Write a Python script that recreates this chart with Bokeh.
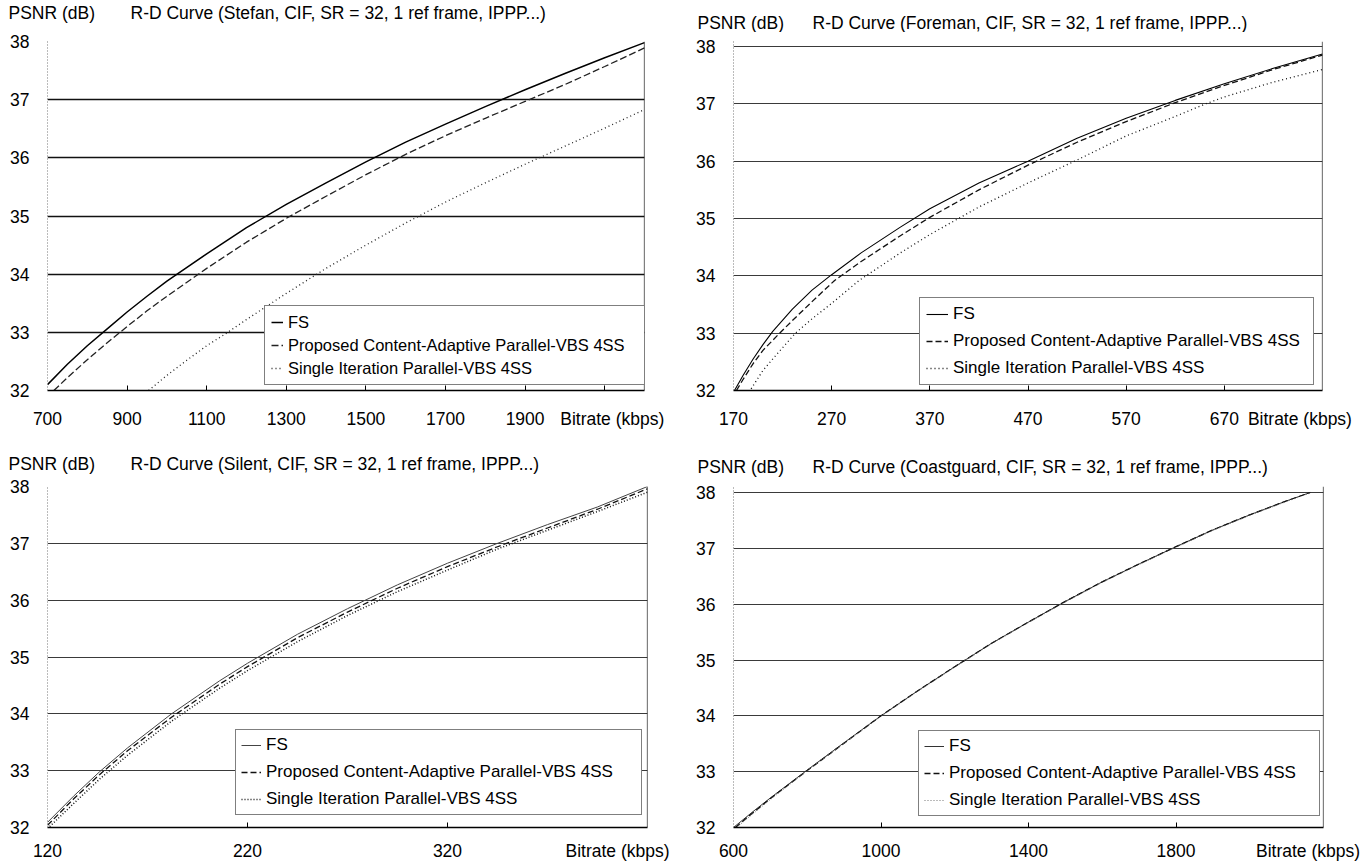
from bokeh.plotting import figure
from bokeh.layouts import column, row
from bokeh.models import Range1d, FixedTicker, Legend, LegendItem, Span
from bokeh.core.properties import value
from bokeh.embed import file_html
from bokeh.resources import INLINE

FONT = "Liberation Sans"

# ---------------- data ----------------
series_names = ["FS", "Proposed Content-Adaptive Parallel-VBS 4SS", "Single Iteration Parallel-VBS 4SS"]
psnr_ticks = [32, 33, 34, 35, 36, 37, 38]
y_label = "PSNR (dB)"
x_label = "Bitrate (kbps)"

# Stefan
stefan_title = "R-D Curve (Stefan, CIF, SR = 32, 1 ref frame, IPPP...)"
stefan_range = (700, 2200)
stefan_label_ticks = [700, 900, 1100, 1300, 1500, 1700, 1900]
stefan_marks = [900, 1100, 1300, 1500, 1700, 1900, 2100]
stefan_fs_x = [700, 750, 800, 850, 900, 950, 1000, 1100, 1200, 1300, 1400, 1500, 1600, 1700, 1800, 1900, 2000, 2100, 2200]
stefan_fs_y = [32.1, 32.45, 32.77, 33.06, 33.35, 33.62, 33.88, 34.35, 34.8, 35.2, 35.57, 35.93, 36.27, 36.58, 36.88, 37.17, 37.45, 37.72, 37.98]
stefan_prop_x = [716, 750, 800, 850, 900, 950, 1000, 1100, 1200, 1300, 1400, 1500, 1600, 1700, 1800, 1900, 2000, 2100, 2200]
stefan_prop_y = [32.0, 32.22, 32.53, 32.82, 33.1, 33.37, 33.62, 34.1, 34.55, 34.96, 35.34, 35.71, 36.06, 36.38, 36.68, 36.97, 37.26, 37.57, 37.89]
stefan_single_x = [954, 1000, 1050, 1100, 1153, 1200, 1300, 1400, 1500, 1600, 1700, 1800, 1900, 2000, 2100, 2200]
stefan_single_y = [32.0, 32.26, 32.52, 32.77, 33.0, 33.22, 33.67, 34.1, 34.5, 34.88, 35.24, 35.57, 35.89, 36.2, 36.51, 36.83]

# Foreman
foreman_title = "R-D Curve (Foreman, CIF, SR = 32, 1 ref frame, IPPP...)"
foreman_range = (170, 770)
foreman_label_ticks = [170, 270, 370, 470, 570, 670]
foreman_marks = [270, 370, 470, 570, 670]
foreman_fs_x = [170, 180, 190, 200, 210, 230, 250, 270, 300, 340, 370, 420, 470, 520, 570, 620, 670, 720, 770]
foreman_fs_y = [31.97, 32.27, 32.55, 32.8, 33.03, 33.42, 33.75, 34.02, 34.4, 34.85, 35.17, 35.62, 36.0, 36.4, 36.75, 37.06, 37.35, 37.62, 37.87]
foreman_prop_x = [173, 180, 190, 200, 217, 230, 250, 273, 300, 340, 370, 420, 470, 520, 570, 620, 670, 720, 770]
foreman_prop_y = [32.0, 32.2, 32.47, 32.7, 33.0, 33.22, 33.55, 33.92, 34.25, 34.7, 35.02, 35.5, 35.93, 36.33, 36.69, 37.02, 37.32, 37.6, 37.85]
foreman_single_x = [188, 200, 215, 233, 250, 270, 298, 340, 370, 420, 470, 520, 570, 620, 651, 670, 720, 770]
foreman_single_y = [32.03, 32.35, 32.65, 33.0, 33.25, 33.52, 33.92, 34.4, 34.72, 35.2, 35.62, 36.02, 36.44, 36.78, 37.0, 37.12, 37.38, 37.6]

# Silent
silent_title = "R-D Curve (Silent, CIF, SR = 32, 1 ref frame, IPPP...)"
silent_range = (120, 420)
silent_label_ticks = [120, 220, 320]
silent_marks = [220, 320]
silent_x = [120, 133, 146, 160, 182, 206, 220, 245, 270, 295, 320, 345, 370, 395, 420]
silent_fs_y = [32.09, 32.55, 32.98, 33.4, 34.0, 34.58, 34.89, 35.4, 35.85, 36.27, 36.65, 37.0, 37.33, 37.64, 38.0]
silent_prop_y = [32.04, 32.5, 32.93, 33.35, 33.94, 34.52, 34.83, 35.34, 35.79, 36.21, 36.59, 36.94, 37.27, 37.6, 37.96]
silent_single_y = [31.98, 32.42, 32.85, 33.27, 33.87, 34.45, 34.76, 35.27, 35.73, 36.15, 36.53, 36.9, 37.23, 37.56, 37.9]

# Coastguard
coast_title = "R-D Curve (Coastguard, CIF, SR = 32, 1 ref frame, IPPP...)"
coast_range = (600, 2200)
coast_label_ticks = [600, 1000, 1400, 1800]
coast_marks = [1000, 1400, 1800]
coast_fs_x = [600, 650, 700, 750, 800, 900, 1000, 1100, 1200, 1300, 1400, 1500, 1600, 1700, 1800, 1900, 2000, 2100, 2164]
coast_fs_y = [32.0, 32.27, 32.53, 32.78, 33.03, 33.52, 34.0, 34.45, 34.88, 35.3, 35.68, 36.05, 36.4, 36.72, 37.03, 37.33, 37.6, 37.85, 38.0]
coast_prop_x = [605, 650, 700, 750, 800, 900, 1000, 1100, 1200, 1300, 1400, 1500, 1600, 1700, 1800, 1900, 2000, 2100, 2164]
coast_prop_y = [32.0, 32.25, 32.52, 32.77, 33.02, 33.51, 34.0, 34.45, 34.88, 35.3, 35.68, 36.05, 36.4, 36.72, 37.03, 37.33, 37.6, 37.85, 38.0]
coast_single_x = [608, 650, 700, 750, 800, 900, 1000, 1100, 1200, 1300, 1400, 1500, 1600, 1700, 1800, 1900, 2000, 2100, 2164]
coast_single_y = [32.0, 32.23, 32.5, 32.76, 33.02, 33.51, 33.99, 34.44, 34.87, 35.29, 35.67, 36.04, 36.39, 36.71, 37.02, 37.32, 37.59, 37.84, 37.99]


def header(width, height, psnr_x, title_x, text_y, title):
    h = figure(width=width, height=height, x_range=Range1d(0, width), y_range=Range1d(0, height),
               output_backend="svg", toolbar_location=None, x_axis_type=None, y_axis_type=None,
               min_border=0, outline_line_color=None, background_fill_color="white",
               border_fill_color="white")
    h.title.visible = False
    h.grid.visible = False
    h.text(x=[psnr_x, title_x], y=[text_y, text_y], text=[y_label, title],
           text_font=value(FONT), text_font_size="17.5px", text_color="black",
           text_align="left", text_baseline="middle")
    return h


def panel(xr, label_ticks, marks, rate_pos, curves, geo, styles):
    # frame top may sit a few px above the 38 dB line (row frames share their top edge)
    ppu = (geo["fh"] - geo["top_gap"]) / (psnr_ticks[-1] - psnr_ticks[0])
    y_top = psnr_ticks[-1] + geo["top_gap"] / ppu
    p = figure(frame_width=geo["fw"], frame_height=geo["fh"],
               x_range=Range1d(*xr), y_range=Range1d(psnr_ticks[0], y_top),
               output_backend="svg", toolbar_location=None,
               min_border_left=geo["bl"], min_border_right=geo["br"],
               min_border_top=geo["bt"], min_border_bottom=geo["bb"],
               background_fill_color="white", border_fill_color="white")
    p.title.visible = False
    p.outline_line_color = None
    p.xgrid.visible = False
    p.ygrid.ticker = FixedTicker(ticks=psnr_ticks)
    p.ygrid.grid_line_color = geo["grid_color"]
    p.ygrid.grid_line_width = geo["grid_width"]

    ticks = list(label_ticks) + [rate_pos]
    overrides = {t: str(t) for t in label_ticks}
    overrides[rate_pos] = x_label
    p.xaxis.ticker = FixedTicker(ticks=ticks, minor_ticks=marks)
    p.xaxis.major_label_overrides = overrides
    p.xaxis.axis_line_color = "black"
    p.xaxis.axis_line_width = 1.3
    p.xaxis.major_tick_line_color = None
    p.xaxis.minor_tick_in = 5
    p.xaxis.minor_tick_out = 0
    p.xaxis.minor_tick_line_color = "black"
    p.xaxis.minor_tick_line_width = 1
    p.xaxis.major_label_standoff = geo["xstand"]
    p.xaxis.major_label_text_font = FONT
    p.xaxis.major_label_text_font_size = "17.5px"
    p.xaxis.major_label_text_color = "black"

    p.yaxis.ticker = FixedTicker(ticks=psnr_ticks)
    p.yaxis.axis_line_color = "#777777"
    p.yaxis.axis_line_dash = "1 2"
    p.yaxis.major_tick_line_color = None
    p.yaxis.minor_tick_line_color = None
    p.yaxis.major_label_standoff = 12
    p.yaxis.major_label_text_font = FONT
    p.yaxis.major_label_text_font_size = "17.5px"
    p.yaxis.major_label_text_color = "black"

    p.add_layout(Span(location=xr[1], dimension="height", line_color="black", line_width=1.2))

    items = []
    for (xs, ys), name, st in zip(curves, series_names, styles):
        r = p.line(xs, ys, line_color=st[0], line_width=st[1], line_dash=st[2])
        items.append(LegendItem(label=name, renderers=[r]))
    leg = Legend(items=items, location=geo["leg_loc"], orientation="vertical",
                 border_line_color="black", border_line_width=1,
                 background_fill_color="white", background_fill_alpha=1.0,
                 label_text_font=FONT, label_text_font_size=geo["leg_font"],
                 label_text_color="black", label_width=geo["label_w"],
                 glyph_width=geo["glyph_w"], glyph_height=20, label_height=20,
                 label_standoff=5, spacing=geo["leg_spacing"], padding=geo["leg_pad"],
                 margin=0)
    p.add_layout(leg)
    return p


WL, WR = 688, 680
HH = 32

g1 = dict(fw=597, fh=349, top_gap=0, bl=47, br=44, bt=9, bb=56, xstand=12,
          grid_color="#111111", grid_width=1.4,
          leg_loc=(217, 5), leg_font="16.5px", glyph_w=12, label_w=351, leg_spacing=3, leg_pad=6)
g2 = dict(fw=589, fh=349, top_gap=5, bl=45, br=46, bt=9, bb=56, xstand=12,
          grid_color="#3a3a3a", grid_width=1.1,
          leg_loc=(186, 5), leg_font="17px", glyph_w=22, label_w=354, leg_spacing=7, leg_pad=6)
g3 = dict(fw=600, fh=341, top_gap=0, bl=47, br=41, bt=8, bb=34, xstand=7,
          grid_color="#3a3a3a", grid_width=1.1,
          leg_loc=(188, 12), leg_font="17px", glyph_w=20, label_w=370, leg_spacing=7, leg_pad=5)
g4 = dict(fw=590, fh=341, top_gap=6, bl=45, br=45, bt=8, bb=34, xstand=7,
          grid_color="#3a3a3a", grid_width=1.1,
          leg_loc=(185, 11), leg_font="17px", glyph_w=20, label_w=365, leg_spacing=7, leg_pad=5)

s1 = [("black", 1.5, "solid"), ("#222222", 1.3, "7 3"), ("#222222", 1.3, "1 3")]
s2 = [("black", 1.1, "solid"), ("#111111", 1.3, "6 3"), ("#111111", 1.3, "1 3")]
s3 = [("#444444", 1.0, "solid"), ("#111111", 1.3, "6 3"), ("#111111", 1.5, "1 2")]
s4 = [("#333333", 1.0, "solid"), ("#111111", 1.3, "6 3"), ("#777777", 1.0, "1 2")]

h1 = header(WL, HH, 8, 130, 20, stefan_title)
h2 = header(WR, HH, 9, 124, 10, foreman_title)
h3 = header(WL, HH, 8, 130, 15, silent_title)
h4 = header(WR, HH, 9, 124, 12, coast_title)

p1 = panel(stefan_range, stefan_label_ticks, stefan_marks, 2119,
           [(stefan_fs_x, stefan_fs_y), (stefan_prop_x, stefan_prop_y), (stefan_single_x, stefan_single_y)], g1, s1)
p2 = panel(foreman_range, foreman_label_ticks, foreman_marks, 747,
           [(foreman_fs_x, foreman_fs_y), (foreman_prop_x, foreman_prop_y), (foreman_single_x, foreman_single_y)], g2, s2)
p3 = panel(silent_range, silent_label_ticks, silent_marks, 405,
           [(silent_x, silent_fs_y), (silent_x, silent_prop_y), (silent_x, silent_single_y)], g3, s3)
p4 = panel(coast_range, coast_label_ticks, coast_marks, 2158,
           [(coast_fs_x, coast_fs_y), (coast_prop_x, coast_prop_y), (coast_single_x, coast_single_y)], g4, s4)

layout = column(row(h1, h2), row(p1, p2), row(h3, h4), row(p3, p4))
open("out.html", "w").write(file_html(layout, INLINE))
